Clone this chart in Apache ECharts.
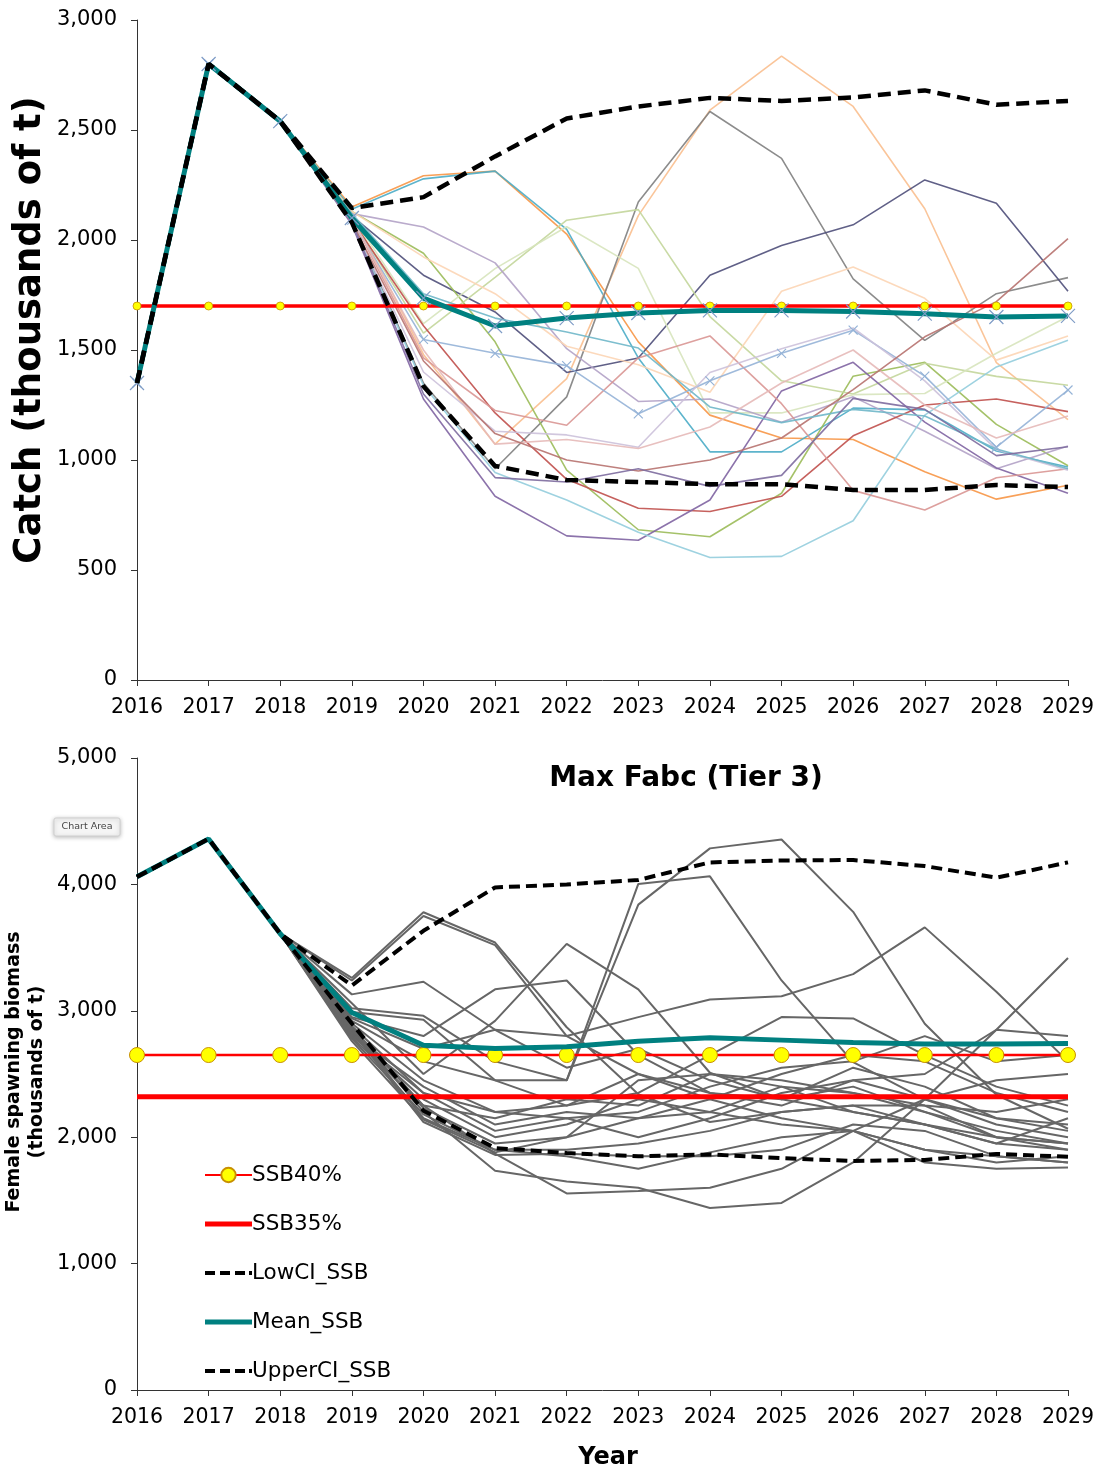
<!DOCTYPE html>
<html>
<head>
<meta charset="utf-8">
<script src="https://cdn.jsdelivr.net/npm/echarts@6/dist/echarts.min.js"></script>
<style>
  html, body { margin: 0; padding: 0; background: #fff; }
  #chart { width: 1108px; height: 1472px; }
</style>
</head>
<body>
<div id="chart"></div>
<script>
var years = ['2016','2017','2018','2019','2020','2021','2022','2023','2024','2025','2026','2027','2028','2029'];

// ---- catch panel ----
var catchHist = [1350, 2800, 2540];
var catchRef = [1700,1700,1700,1700,1700,1700,1700,1700,1700,1700,1700,1700,1700,1700];
var catchMean = [1350, 2800, 2540, 2100, 1736, 1609, 1645, 1668, 1680, 1680, 1675, 1665, 1650, 1655];
var catchUpper = [1350, 2800, 2540, 2145, 2195, 2380, 2552, 2607, 2646, 2632, 2648, 2680, 2615, 2632];
var catchLower = [1350, 2800, 2540, 2080, 1335, 973, 909, 900, 890, 890, 864, 864, 886, 877];
// simulated trajectories, 2019-2029
var catchSims = [
  [2150, 2292, 2313, 2027, 1537, 1204, 1100, 1093, 947, 822, 885],
  [2140, 2278, 2313, 2048, 1464, 1037, 1037, 1236, 1228, 1041, 968],
  [2120, 1480, 1072, 1370, 2111, 2590, 2836, 2607, 2142, 1443, 1183],
  [2090, 1350, 960, 1287, 2173, 2584, 2371, 1823, 1544, 1756, 1829],
  [2110, 1840, 1673, 1398, 1464, 1840, 1975, 2069, 2273, 2167, 1767],
  [2130, 1940, 1537, 954, 683, 651, 849, 1381, 1444, 1162, 974],
  [2100, 1577, 1830, 2090, 2138, 1652, 1360, 1300, 1440, 1380, 1340],
  [2110, 1620, 1870, 2060, 1871, 1214, 1214, 1297, 1302, 1485, 1652],
  [2120, 2059, 1896, 1506, 1266, 1277, 1172, 1287, 1131, 960, 1064],
  [2130, 1923, 1756, 1517, 1433, 1308, 1767, 1877, 1735, 1454, 1564],
  [2090, 1610, 1214, 912, 781, 766, 835, 1110, 1250, 1277, 1220],
  [2070, 1277, 835, 655, 635, 818, 1314, 1444, 1172, 964, 849],
  [2080, 1339, 943, 818, 672, 557, 562, 724, 1204, 1423, 1544],
  [2100, 1464, 1225, 1158, 1464, 1564, 1256, 862, 773, 919, 960],
  [2090, 1548, 1485, 1429, 1210, 1360, 1485, 1590, 1381, 1058, 1318],
  [2080, 1400, 1131, 1114, 1058, 1398, 1506, 1600, 1360, 1047, 954],
  [2100, 1500, 1072, 1093, 1052, 1150, 1350, 1500, 1250, 1100, 1200],
  [2080, 1450, 1120, 1000, 950, 1000, 1100, 1320, 1560, 1720, 2006],
  [2120, 1756, 1645, 1582, 1509, 1241, 1170, 1230, 1200, 1050, 960],
  [2080, 1300, 920, 900, 960, 880, 930, 1280, 1230, 1020, 1060]
];
var catchSimColors = ['#f79646','#4bacc6','#fabf8f','#7f7f7f','#4f4f7a','#9bbb59','#c3d69b','#d7e4bd',
  '#b3a2c7','#fcd5b5','#c0504d','#8064a2','#93cddd','#d99694','#95b3d7','#ccc1da','#e6b9b8','#b7726f','#6fb7c9','#7d6b9e'];

// ---- spawning biomass panel ----
var ssbHist = [4060, 4360, 3610];
var ssb40 = [2650,2650,2650,2650,2650,2650,2650,2650,2650,2650,2650,2650,2650,2650];
var ssb35 = [2320,2320,2320,2320,2320,2320,2320,2320,2320,2320,2320,2320,2320,2320];
var ssbMean = [4060, 4360, 3610, 2986, 2727, 2701, 2716, 2760, 2786, 2768, 2749, 2738, 2738, 2742];
var ssbUpper = [4060, 4360, 3610, 3200, 3633, 3976, 4000, 4035, 4174, 4189, 4193, 4145, 4053, 4174];
var ssbLower = [4060, 4360, 3610, 2900, 2210, 1914, 1875, 1849, 1864, 1834, 1812, 1820, 1868, 1845];
var ssbSims = [
  [3260, 3780, 3540, 2870, 2340, 2120, 2200, 2250, 2100, 1950, 1900],
  [3240, 3750, 3520, 2800, 2500, 2300, 2150, 2050, 1900, 1850, 1800],
  [3130, 3230, 2850, 2550, 2700, 2450, 2300, 2400, 2200, 2000, 1950],
  [3060, 2500, 2920, 3530, 3170, 2510, 2300, 2200, 2100, 2000, 1900],
  [3020, 2960, 2600, 2450, 3840, 4285, 4355, 3783, 2897, 2336, 2067],
  [2990, 2930, 2450, 2450, 4004, 4064, 3240, 2594, 2300, 2150, 2100],
  [2950, 2800, 3170, 3240, 2650, 2350, 2250, 2450, 2300, 2100, 2000],
  [2940, 2700, 2850, 2800, 2950, 3090, 3115, 3290, 3660, 3150, 2600],
  [2920, 2600, 2450, 2250, 2350, 2650, 2950, 2940, 2650, 2400, 2250],
  [2900, 2450, 2200, 2150, 2200, 2400, 2550, 2600, 2800, 2600, 2650],
  [2880, 2350, 2050, 2150, 2000, 2150, 2350, 2450, 2500, 2850, 2800],
  [2870, 2250, 1870, 1555, 1575, 1600, 1750, 2050, 2300, 2450, 2500],
  [2860, 2200, 1734, 1650, 1600, 1440, 1480, 1800, 2300, 2850, 3418],
  [2850, 2150, 1900, 1900, 1950, 2050, 2200, 2250, 2250, 2000, 1950],
  [2840, 2120, 1860, 1870, 1850, 1850, 1900, 2100, 2050, 1850, 1800],
  [2830, 2230, 1950, 2000, 2150, 2200, 2100, 2050, 1800, 1750, 1760],
  [2820, 2300, 2000, 2100, 2300, 2200, 2400, 2350, 2250, 2200, 2300],
  [2810, 2400, 2100, 2200, 2150, 2300, 2500, 2650, 2600, 2350, 2200],
  [2800, 2350, 2200, 2250, 2500, 2350, 2300, 2550, 2400, 2150, 2050],
  [2790, 2250, 2150, 2300, 2250, 2500, 2450, 2350, 2200, 2050, 1950],
  [2780, 2180, 1900, 1850, 1750, 1880, 2000, 2050, 1900, 1800, 1850],
  [2760, 2140, 1880, 2000, 2450, 2500, 2400, 2200, 2100, 1950, 2150]
];

var FONT = '"DejaVu Sans", Verdana, sans-serif';
var xMark = 'path://M0,0L10,10M10,0L0,10';
var barIcon = 'path://M0,0H46V5H0Z';
var dashIcon = 'path://M0,0H10V4H0ZM15,0H25V4H15ZM30,0H40V4H30ZM44,0H47V4H44Z';

var chart = echarts.init(document.getElementById('chart'), null, { renderer: 'canvas' });

var series = [];

// top: simulations
catchSims.forEach(function (s, i) {
  var withX = (i === 14);
  series.push({
    name: 'catch' + (i + 1), type: 'line', xAxisIndex: 0, yAxisIndex: 0,
    data: catchHist.concat(s),
    symbol: withX ? xMark : 'none', symbolSize: 9, showSymbol: withX,
    itemStyle: withX ? { color: 'none', borderColor: catchSimColors[i], borderWidth: 1.2 } : { color: catchSimColors[i] },
    lineStyle: { color: catchSimColors[i], width: 1.6, opacity: 0.9 },
    silent: true, z: 2
  });
});
series.push({
  name: 'catchRef', type: 'line', xAxisIndex: 0, yAxisIndex: 0, data: catchRef,
  symbol: 'circle', symbolSize: 8,
  itemStyle: { color: '#ffff00', borderColor: '#c89000', borderWidth: 0.8 },
  lineStyle: { color: '#ff0000', width: 3.5 }, z: 4
});
series.push({
  name: 'catchMean', type: 'line', xAxisIndex: 0, yAxisIndex: 0, data: catchMean,
  symbol: xMark, symbolSize: 14,
  itemStyle: { color: 'none', borderColor: '#7f9cc6', borderWidth: 1.2 },
  lineStyle: { color: '#008080', width: 5 }, z: 5
});
series.push({
  name: 'catchUpper', type: 'line', xAxisIndex: 0, yAxisIndex: 0, data: catchUpper,
  symbol: 'none', lineStyle: { color: '#000', width: 4.5, type: [13, 7] }, z: 6
});
series.push({
  name: 'catchLower', type: 'line', xAxisIndex: 0, yAxisIndex: 0, data: catchLower,
  symbol: 'none', lineStyle: { color: '#000', width: 4.5, type: [13, 7] }, z: 6
});

// bottom: simulations
ssbSims.forEach(function (s, i) {
  series.push({
    name: 'ssb' + (i + 1), type: 'line', xAxisIndex: 1, yAxisIndex: 1,
    data: ssbHist.concat(s), symbol: 'none',
    lineStyle: { color: '#666666', width: 2 }, silent: true, z: 2
  });
});
series.push({
  name: 'SSB40%', type: 'line', xAxisIndex: 1, yAxisIndex: 1, data: ssb40,
  symbol: 'circle', symbolSize: 15,
  itemStyle: { color: '#ffff00', borderColor: '#c89000', borderWidth: 1 },
  lineStyle: { color: '#ff0000', width: 2.5 }, z: 4
});
series.push({
  name: 'SSB35%', type: 'line', xAxisIndex: 1, yAxisIndex: 1, data: ssb35,
  symbol: 'none', itemStyle: { color: '#ff0000' },
  lineStyle: { color: '#ff0000', width: 5 }, z: 4
});
series.push({
  name: 'LowCI_SSB', type: 'line', xAxisIndex: 1, yAxisIndex: 1, data: ssbLower,
  symbol: 'none', itemStyle: { color: '#000' },
  lineStyle: { color: '#000', width: 4, type: [11, 6] }, z: 6
});
series.push({
  name: 'Mean_SSB', type: 'line', xAxisIndex: 1, yAxisIndex: 1, data: ssbMean,
  symbol: 'none', itemStyle: { color: '#008080' },
  lineStyle: { color: '#008080', width: 5 }, z: 5
});
series.push({
  name: 'UpperCI_SSB', type: 'line', xAxisIndex: 1, yAxisIndex: 1, data: ssbUpper,
  symbol: 'none', itemStyle: { color: '#000' },
  lineStyle: { color: '#000', width: 4, type: [11, 6] }, z: 6
});

function xAx(idx, margin) {
  return {
    type: 'category', gridIndex: idx, data: years, boundaryGap: false,
    axisLine: { lineStyle: { color: '#333', width: 1 } },
    axisTick: { show: true, length: 6, lineStyle: { color: '#333' } },
    axisLabel: { color: '#000', fontSize: 20.5, fontFamily: FONT, margin: margin, interval: 0 },
    splitLine: { show: false }
  };
}
function yAx(idx, max, interval) {
  return {
    type: 'value', gridIndex: idx, min: 0, max: max, interval: interval,
    axisLine: { show: true, lineStyle: { color: '#333', width: 1 } },
    axisTick: { show: true, length: 6, lineStyle: { color: '#333' } },
    axisLabel: {
      color: '#000', fontSize: 21, fontFamily: FONT, margin: 20,
      formatter: function (v) { return v.toLocaleString('en-US'); }
    },
    splitLine: { show: false }
  };
}

chart.setOption({
  animation: false,
  backgroundColor: '#fff',
  title: {
    text: 'Max Fabc (Tier 3)', left: 681, top: 760, textAlign: 'center',
    textStyle: { fontSize: 28, fontWeight: 'bold', color: '#000', fontFamily: FONT }
  },
  grid: [
    { left: 137, right: 40, top: 20, height: 660 },
    { left: 137, right: 40, top: 758, height: 632 }
  ],
  xAxis: [xAx(0, 17), xAx(1, 17)],
  yAxis: [yAx(0, 3000, 500), yAx(1, 5000, 1000)],
  legend: {
    data: [
      { name: 'SSB40%' },
      { name: 'SSB35%', icon: barIcon },
      { name: 'LowCI_SSB', icon: dashIcon },
      { name: 'Mean_SSB', icon: barIcon },
      { name: 'UpperCI_SSB', icon: dashIcon }
    ],
    orient: 'vertical', left: 199, top: 1159, itemGap: 27,
    itemWidth: 47, itemHeight: 18, symbolKeepAspect: true,
    textStyle: { fontSize: 21.5, color: '#000', fontFamily: FONT, padding: [0, 0, 0, -5] },
    selectedMode: false
  },
  graphic: [
    {
      type: 'text', x: 30, y: 330, rotation: Math.PI / 2,
      style: { text: 'Catch (thousands of t)', font: 'bold 37px ' + FONT, fill: '#000',
        textAlign: 'center', textVerticalAlign: 'middle' }
    },
    {
      type: 'text', x: 26, y: 1072, rotation: Math.PI / 2,
      style: { text: 'Female spawning biomass\n(thousands of t)', font: 'bold 19px ' + FONT, fill: '#000',
        textAlign: 'center', textVerticalAlign: 'middle', lineHeight: 23 }
    },
    {
      type: 'text', x: 608, y: 1458,
      style: { text: 'Year', font: 'bold 24px ' + FONT, fill: '#000',
        textAlign: 'center', textVerticalAlign: 'middle' }
    },
    {
      type: 'group', x: 54, y: 818,
      children: [
        { type: 'rect', shape: { x: 0, y: 0, width: 66, height: 18, r: 2 },
          style: { fill: '#f5f5f5', stroke: '#d0d0d0', lineWidth: 1,
            shadowBlur: 4, shadowColor: 'rgba(0,0,0,0.25)', shadowOffsetY: 1 } },
        { type: 'text', x: 33, y: 9,
          style: { text: 'Chart Area', font: '9.5px ' + FONT, fill: '#444',
            textAlign: 'center', textVerticalAlign: 'middle' } }
      ]
    }
  ],
  series: series
});
</script>
</body>
</html>
